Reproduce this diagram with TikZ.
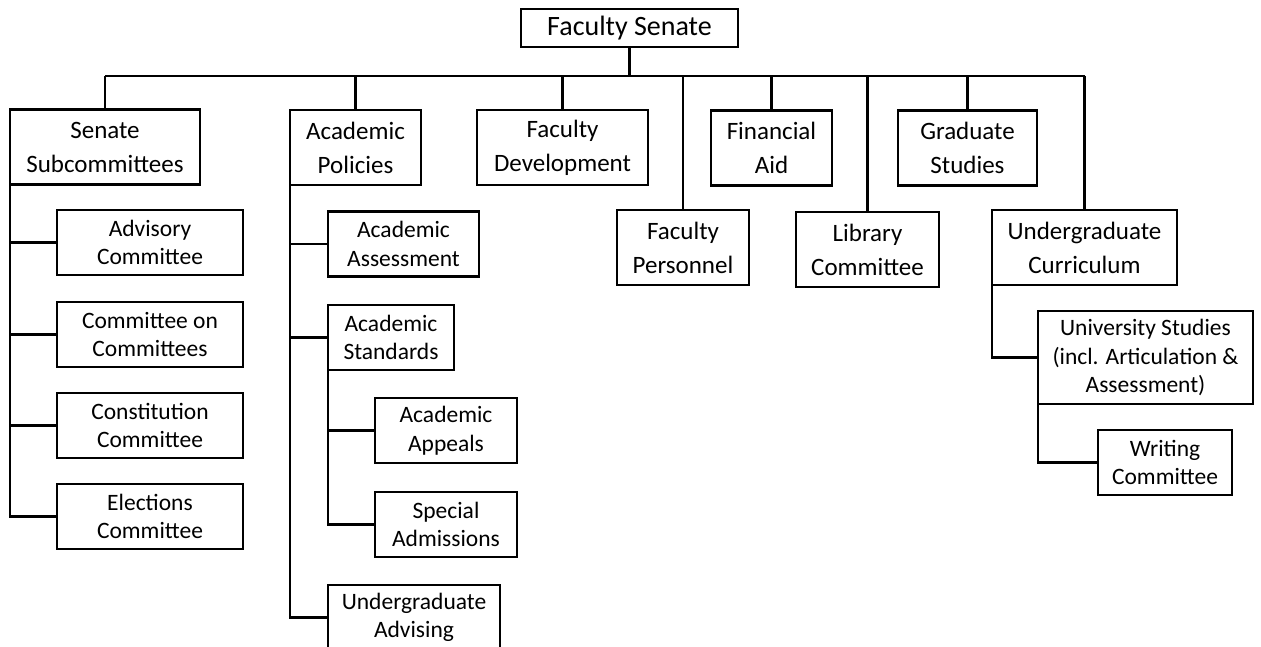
\documentclass[tikz,border=0pt]{standalone}
\usepackage{fontspec}
\setmainfont{Carlito}

\begin{document}
\begin{tikzpicture}[x=1pt, y=-1pt,
  block/.style={draw, line width=2.6pt, outer sep=0pt, inner sep=0pt, align=center},
  headblock/.style={block, minimum width=217pt, minimum height=38pt, font=\fontsize{28}{34}\selectfont},
  topblock/.style={block, minimum height=75pt, font=\fontsize{25}{34}\selectfont},
  kidblock/.style={block, minimum height=65pt, font=\fontsize{23.5}{28.5}\selectfont},
  link/.style={line width=2.6pt}
]
  \useasboundingbox (0,0) rectangle (1261,647);

  % top of the tree
  \node[headblock] (senate) at (629.5,28) {Faculty Senate};
  \coordinate (bar) at (629.5,76);

  \node[topblock, minimum width=190pt] (subs) at (105,147) {Senate\\Subcommittees};
  \node[topblock, minimum width=131pt] (policies) at (355.5,147.5) {Academic\\Policies};
  \node[topblock, minimum width=171pt] (develop) at (562.5,147.5) {Faculty\\Development};
  \node[topblock, minimum width=132pt] (personnel) at (683,247.5) {Faculty\\Personnel};
  \node[topblock, minimum width=121pt] (finaid) at (771.5,148) {Financial\\Aid};
  \node[topblock, minimum width=143pt] (library) at (867.5,249.5) {Library\\Committee};
  \node[topblock, minimum width=139pt] (graduate) at (967.5,148) {Graduate\\Studies};
  \node[topblock, minimum width=185pt] (curric) at (1084.5,247.5) {Undergraduate\\Curriculum};

  % senate subcommittees
  \node[kidblock, minimum width=186pt] (advisory) at (150,242.5) {Advisory\\Committee};
  \node[kidblock, minimum width=186pt] (coc) at (150,334.5) {Committee on\\Committees};
  \node[kidblock, minimum width=186pt] (constit) at (150,425.5) {Constitution\\Committee};
  \node[kidblock, minimum width=186pt] (elect) at (150,516.5) {Elections\\Committee};

  % academic policies
  \node[kidblock, minimum width=151pt] (assess) at (403.5,244) {Academic\\Assessment};
  \node[kidblock, minimum width=126pt] (standards) at (391,337.5) {Academic\\Standards};
  \node[kidblock, minimum width=142pt] (appeals) at (446,430.5) {Academic\\Appeals};
  \node[kidblock, minimum width=142pt] (admiss) at (446,524.5) {Special\\Admissions};
  \node[kidblock, minimum width=172pt] (advising) at (414,617.5) {Undergraduate\\Advising};

  % undergraduate curriculum
  \node[kidblock, minimum width=215pt, minimum height=93pt] (ustudies) at (1145.5,357.5)
    {University Studies\\(incl. Articulation \&\\Assessment)};
  \node[kidblock, minimum width=134pt] (writing) at (1165,462.5) {Writing\\Committee};

  % connectors
  \draw[link] (senate) -- (bar);
  \draw[link] (bar -| subs) -- (bar -| curric);
  \foreach \n in {subs,policies,develop,personnel,finaid,library,graduate,curric}
    \draw[link] (bar -| \n) -- (\n);

  \foreach \n in {advisory,coc,constit,elect}
    \draw[link] (subs.south west) |- (\n);
  \foreach \n in {assess,standards,advising}
    \draw[link] (policies.south west) |- (\n);
  \foreach \n in {appeals,admiss}
    \draw[link] (standards.south west) |- (\n);
  \draw[link] (curric.south west) |- (ustudies);
  \draw[link] (ustudies.south west) |- (writing);
\end{tikzpicture}
\end{document}
